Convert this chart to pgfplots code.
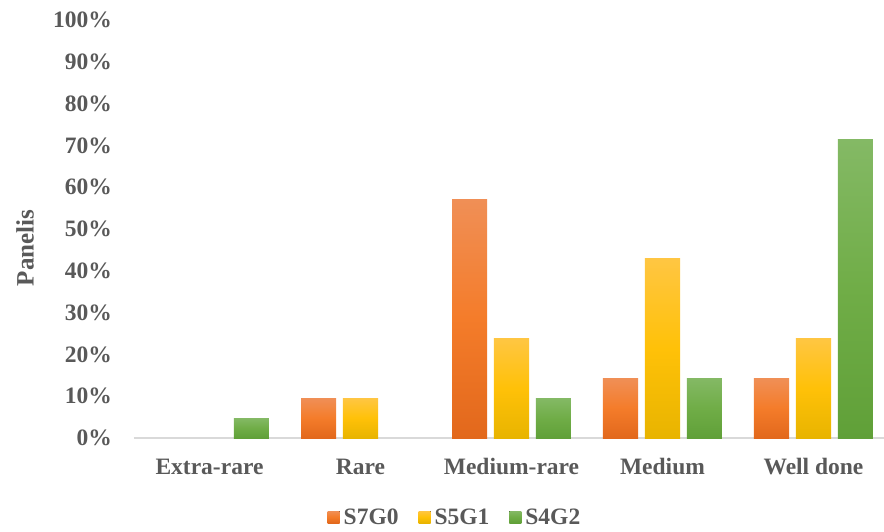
\documentclass[border=0pt]{standalone}
\usepackage{pgfplots}
\pgfplotsset{compat=1.18}
\usepackage{fontspec}
\setmainfont{Liberation Serif}

\definecolor{txt}{RGB}{89,89,89}
\definecolor{axisgray}{RGB}{217,217,217}
\definecolor{orTop}{RGB}{240,143,86}
\definecolor{orMid}{RGB}{244,124,42}
\definecolor{orBot}{RGB}{226,104,28}
\definecolor{yeTop}{RGB}{255,198,66}
\definecolor{yeMid}{RGB}{255,193,8}
\definecolor{yeBot}{RGB}{232,180,0}
\definecolor{grTop}{RGB}{132,185,101}
\definecolor{grMid}{RGB}{112,173,71}
\definecolor{grBot}{RGB}{96,160,56}

\newcommand{\lbl}{\fontsize{23.5}{28}\selectfont\bfseries}

% one bar style per series; each bar is its own plot so the gradient spans that bar only
\pgfplotsset{
  s7g0/.style={ybar, bar width=0.232, bar shift=-0.278, draw=none,
    top color=orTop, bottom color=orBot, middle color=orMid},
  s5g1/.style={ybar, bar width=0.232, bar shift=0, draw=none,
    top color=yeTop, bottom color=yeBot, middle color=yeMid},
  s4g2/.style={ybar, bar width=0.232, bar shift=0.278, draw=none,
    top color=grTop, bottom color=grBot, middle color=grMid},
}

\begin{document}
\begin{tikzpicture}
\path[use as bounding box] (0,0) rectangle (884pt,531pt);
\begin{axis}[
  at={(134pt,93pt)}, anchor=south west,
  scale only axis, width=750pt, height=418pt,
  xmin=-0.5, xmax=4.467, ymin=0, ymax=100,
  axis lines*=left, axis line style={-},
  x axis line style={draw=axisgray, line width=1.5pt},
  y axis line style={draw=none},
  xtick={0,1,2,3,4},
  xticklabels={Extra-rare,Rare,Medium-rare,Medium,Well done},
  x tick style={draw=none},
  extra x ticks={-0.5,0.5,1.5,2.5,3.5},
  extra x tick labels={},
  extra x tick style={tick align=outside, major tick length=6pt,
    tick style={draw=axisgray, line width=1.5pt}},
  ytick={0,10,...,100},
  yticklabels={0\%,10\%,20\%,30\%,40\%,50\%,60\%,70\%,80\%,90\%,100\%},
  y tick style={draw=none},
  tick label style={font=\lbl, text=txt},
  yticklabel style={anchor=east, inner sep=0pt, xshift=-22pt},
  xticklabel style={anchor=base, inner sep=0pt, yshift=-36.5pt},
  ylabel={Panelis},
  ylabel style={at={(axis description cs:-0.1453,0.455)}, anchor=center,
    font=\fontsize{25}{30}\selectfont\bfseries, text=txt},
  legend style={at={(axis description cs:0.428,-0.189)}, anchor=center,
    draw=none, fill=none, legend columns=-1, font=\lbl, text=txt,
    /tikz/every even column/.append style={column sep=18pt},
    /tikz/every odd column/.append style={column sep=2pt}},
  legend image code/.code={\fill[#1] (0pt,-6pt) rectangle (12pt,6pt);},
]
% shares of panelists (n = 21) per doneness level; zero shares are not drawn
% S7G0
\addplot[s7g0] coordinates {(1,9.52)};
\addlegendentry{S7G0}
\addplot[s7g0, forget plot] coordinates {(2,57.14)};
\addplot[s7g0, forget plot] coordinates {(3,14.29)};
\addplot[s7g0, forget plot] coordinates {(4,14.29)};
% S5G1
\addplot[s5g1] coordinates {(1,9.52)};
\addlegendentry{S5G1}
\addplot[s5g1, forget plot] coordinates {(2,23.81)};
\addplot[s5g1, forget plot] coordinates {(3,42.86)};
\addplot[s5g1, forget plot] coordinates {(4,23.81)};
% S4G2
\addplot[s4g2] coordinates {(0,4.76)};
\addlegendentry{S4G2}
\addplot[s4g2, forget plot] coordinates {(2,9.52)};
\addplot[s4g2, forget plot] coordinates {(3,14.29)};
\addplot[s4g2, forget plot] coordinates {(4,71.43)};
\end{axis}
\end{tikzpicture}
\end{document}
